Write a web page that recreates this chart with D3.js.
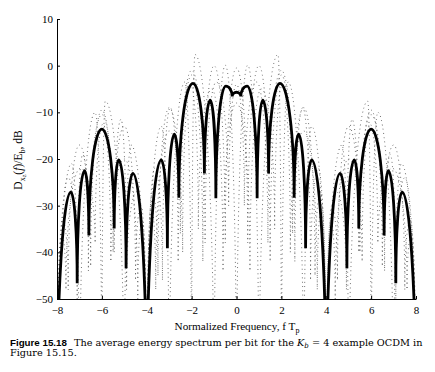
<!DOCTYPE html>
<html><head><meta charset="utf-8">
<script src="https://cdn.jsdelivr.net/npm/d3@7"></script>
<style>
html,body{margin:0;padding:0;background:#fff;}
svg{display:block;}
</style></head>
<body><svg id="c" width="435" height="372"></svg>
<script>
const xTicks = [-8,-6,-4,-2,0,2,4,6,8];
const yTicks = [10,0,-10,-20,-30,-40,-50];

// Average energy spectrum per bit (solid): alternating dip / peak nodes
const solidF = [-8,-7.38,-7.10,-6.77,-6.58,-6.0,-5.45,-5.25,-4.92,-4.62,-4.0,-3.35,-3.08,-2.77,-2.57,-1.94,-1.43,-1.17,-0.92,-0.48,-0.19,0,0.19,0.48,0.92,1.17,1.43,1.94,2.57,2.77,3.08,3.35,4.0,4.62,4.92,5.25,5.45,6.0,6.58,6.77,7.10,7.38,8];
const solidDb = [-75,-27.1,-46.6,-22.5,-36.4,-13.6,-34.9,-20.2,-43.4,-23.1,-75,-20.2,-39.1,-14.7,-28.3,-3.8,-23.1,-7.4,-28.4,-4.4,-6.6,-5.7,-6.6,-4.4,-28.4,-7.4,-23.1,-3.8,-28.3,-14.7,-39.1,-20.2,-75,-23.1,-43.4,-20.2,-34.9,-13.6,-36.4,-22.5,-46.6,-27.1,-75];

// Individual bit spectra (dotted): alternating dip / peak nodes
const d1F = [-8,-7.35,-7,-6.3,-6,-5.85,-5,-4.7,-4,-3.35,-3,-2.3,-2,-1.85,-1,-0.5,0,0.5,1,1.85,2,2.3,3,3.35,4,4.7,5,5.85,6,6.3,7,7.35,8];
const d1Db = [-75,-21,-75,-10,-75,-7.6,-75,-17,-75,-13,-75,-3.5,-75,2.4,-75,0.1,-75,0.1,-75,2.4,-75,-3.5,-75,-13,-75,-17,-75,-7.6,-75,-10,-75,-21,-75];

const d2F = [-8,-7.75,-7.5,-7,-6.5,-6,-5.5,-5,-4.5,-4.25,-4,-3.75,-3.5,-3,-2.5,-2,-1.5,-1,-0.5,0,0.5,1,1.5,2,2.5,3,3.5,3.75,4,4.25,4.5,5,5.5,6,6.5,7,7.5,7.75,8];
const d2Db = [-75,-33,-48,-17,-43,-9.5,-40,-13,-46,-30,-75,-27,-45,-9,-36,-2,-42,0,-38,-0.5,-38,0,-42,-2,-36,-9,-45,-27,-75,-30,-46,-13,-40,-9.5,-43,-17,-48,-33,-75];

const d3F = [-8,-7.5,-7.1,-6.85,-6.6,-6.0,-5.45,-5.15,-4.9,-4.45,-4,-3.65,-3.3,-2.95,-2.6,-2.0,-1.4,-0.9,-0.35,0,0.35,0.9,1.4,2.0,2.6,2.95,3.3,3.65,4,4.45,4.9,5.15,5.45,6.0,6.6,6.85,7.1,7.5,8];
const d3Db = [-75,-24,-50,-19,-44,-10.5,-40,-11.5,-48,-27,-75,-22,-46,-9,-42,-1,-38,-3.5,-30,-4,-30,-3.5,-38,-1,-42,-9,-46,-22,-75,-27,-48,-11.5,-40,-10.5,-44,-19,-50,-24,-75];

const d4F = [-8,-7.8,-7.6,-6.95,-6.3,-5.95,-5.6,-5.0,-4.4,-4.2,-4.0,-3.8,-3.6,-3.0,-2.4,-2.05,-1.7,-1.1,-0.6,0,0.6,1.1,1.7,2.05,2.4,3.0,3.6,3.8,4.0,4.2,4.4,5.0,5.6,5.95,6.3,6.95,7.6,7.8,8];
const d4Db = [-75,-36,-48,-22,-38,-12.5,-42,-20,-50,-33,-75,-30,-48,-14,-40,-4,-35,-5,-44,-8,-44,-5,-35,-4,-40,-14,-48,-30,-75,-33,-50,-20,-42,-12.5,-38,-22,-48,-36,-75];

const dottedSeries = [[d1F,d1Db],[d2F,d2Db],[d3F,d3Db],[d4F,d4Db]];

const svg = d3.select("#c");
const x = d3.scaleLinear().domain([-8,8]).range([57,416]);
const y = d3.scaleLinear().domain([-50,10]).range([299,19]);

svg.append("rect").attr("width",435).attr("height",372).attr("fill","#fff");

svg.append("defs").append("clipPath").attr("id","plotclip")
  .append("rect").attr("x",x(-8)).attr("y",0).attr("width",x(8)-x(-8)).attr("height",y(-50));

// lobe path: elliptical arcs, vertical tangent at dips, horizontal at peaks
function lobePath(fs, dbs){
  const K = 0.5523;
  const p = d3.path();
  const pts = fs.map((f,i)=>[x(f), y(dbs[i]), dbs[i]]);
  p.moveTo(pts[0][0], pts[0][1]);
  for(let i=0;i<pts.length-1;i++){
    const a = pts[i], b = pts[i+1];
    if(a[2] < b[2]){
      p.bezierCurveTo(a[0], a[1] + K*(b[1]-a[1]), b[0] - K*(b[0]-a[0]), b[1], b[0], b[1]);
    } else {
      p.bezierCurveTo(a[0] + K*(b[0]-a[0]), a[1], b[0], b[1] + K*(a[1]-b[1]), b[0], b[1]);
    }
  }
  return p.toString();
}

const plot = svg.append("g").attr("clip-path","url(#plotclip)");

plot.selectAll("path.dot").data(dottedSeries).join("path")
  .attr("class","dot")
  .attr("d", d => lobePath(d[0], d[1]))
  .attr("fill","none")
  .attr("stroke","#555")
  .attr("stroke-width",0.9)
  .attr("stroke-dasharray","0.9 3.4");

plot.append("path")
  .attr("d", lobePath(solidF, solidDb))
  .attr("fill","none")
  .attr("stroke","#000")
  .attr("stroke-width",2.8)
  .attr("stroke-linejoin","miter");

const fmt = d => d < 0 ? "\u2212" + Math.abs(d) : String(d);

const gx = svg.append("g").attr("transform",`translate(0,${y(-50)})`)
  .call(d3.axisBottom(x).tickValues(xTicks).tickSizeInner(-3).tickSizeOuter(0).tickPadding(4).tickFormat(fmt));
gx.selectAll("text").attr("y",14.5).attr("dy",0);

const gy = svg.append("g").attr("transform",`translate(${x(-8)},0)`)
  .call(d3.axisLeft(y).tickValues(yTicks).tickSizeInner(-3).tickSizeOuter(0).tickPadding(4).tickFormat(fmt));

svg.selectAll(".tick text").attr("font-family","'Liberation Serif', serif").attr("font-size",11).attr("fill","#000");
svg.selectAll(".domain").attr("stroke","#000").attr("stroke-width",1);
svg.selectAll(".tick line").attr("stroke","#000");

// x axis title
const xt = svg.append("text").attr("x",237).attr("y",330).attr("text-anchor","middle")
  .attr("font-family","'Liberation Serif', serif").attr("font-size",11.2).attr("fill","#000");
xt.append("tspan").text("Normalized Frequency, f T");
xt.append("tspan").attr("dy",2.5).attr("font-size",8).text("p");

// y axis title
const yt = svg.append("text").attr("transform","translate(22,160) rotate(-90)").attr("text-anchor","middle")
  .attr("font-family","'Liberation Serif', serif").attr("font-size",11.5).attr("fill","#000");
yt.append("tspan").text("D");
yt.append("tspan").attr("dy",2.5).attr("font-size",8).text("x");
yt.append("tspan").attr("dy",1.8).attr("font-size",6).text("z");
yt.append("tspan").attr("dy",-4.3).text("(");
yt.append("tspan").attr("font-style","italic").text("f");
yt.append("tspan").text(")/E");
yt.append("tspan").attr("dy",2.5).attr("font-size",8).text("b");
yt.append("tspan").attr("dy",-2.5).text(", dB");

// caption
const fig = svg.append("text").attr("x",10).attr("y",345.5)
  .attr("font-family","'Liberation Sans', Arial, sans-serif").attr("font-weight","bold")
  .attr("font-size",9).attr("fill","#000").text("Figure 15.18");
fig.attr("font-size", 9 * 57 / fig.node().getComputedTextLength());

const base = 9.5;
const cap = svg.append("text").attr("x",74).attr("y",345.5)
  .attr("font-family","'DejaVu Serif', serif").attr("font-size",base).attr("fill","#000");
cap.append("tspan").text("The average energy spectrum per bit for the ");
cap.append("tspan").attr("font-style","italic").text("K");
const sub = cap.append("tspan").attr("font-style","italic").attr("dy",2).attr("font-size",base*0.72).text("b");
cap.append("tspan").attr("dy",-2).text(" = 4 example OCDM in");
const scale = 349 / cap.node().getComputedTextLength();
const fs = base * scale;
cap.attr("font-size", fs);
sub.attr("font-size", fs*0.72);

svg.append("text").attr("x",10).attr("y",355.5)
  .attr("font-family","'DejaVu Serif', serif").attr("font-size",fs).attr("fill","#000")
  .text("Figure 15.15.");
</script>
</body></html>
